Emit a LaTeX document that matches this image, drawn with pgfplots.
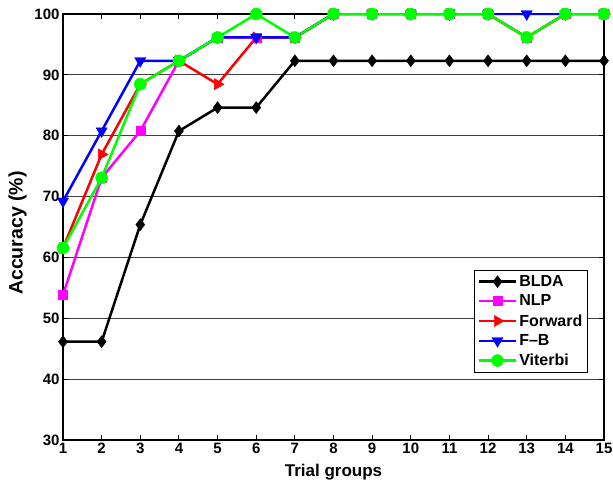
\documentclass[border=0pt]{standalone}
\usepackage{pgfplots}
\pgfplotsset{compat=1.18}
\usepackage{fontspec}
\setmainfont{Liberation Sans}
\definecolor{mmag}{rgb}{1,0,1}
\definecolor{mgreen}{rgb}{0,1,0}
\definecolor{mblue}{rgb}{0,0,1}
\definecolor{mred}{rgb}{1,0,0}
\begin{document}
\begin{tikzpicture}
\begin{axis}[
 name=ax,
 scale only axis, width=541pt, height=426pt,
 xmin=1,xmax=15,ymin=30,ymax=100,
 xtick={1,...,15}, ytick={30,40,...,100},
 ymajorgrids, grid style={black!75, line width=0.7pt},
 tick align=inside, major tick length=5pt,
 axis line style={line width=1.1pt},
 tick style={black, line width=0.9pt},
 font=\bfseries\fontsize{15}{17}\selectfont,
 ticklabel style={font=\bfseries\fontsize{15}{17}\selectfont},
 /pgf/number format/assume math mode=true,
 xlabel={Trial groups}, ylabel={Accuracy (\%)},
 xlabel style={yshift=-3pt, font=\bfseries\fontsize{17}{19}\selectfont},
 ylabel style={yshift=1pt, xshift=-6pt, font=\bfseries\fontsize{19.5}{21}\selectfont},
 legend style={at={(0.970,0.399)}, anchor=north east, draw=black, line width=0.8pt,
   font=\bfseries\fontsize{16}{18}\selectfont, row sep=3pt, inner xsep=3pt, inner ysep=3pt},
 legend cell align=left,
 legend image code/.code={\draw[mark repeat=2,mark phase=2] plot coordinates {(0cm,0cm)(0.65cm,0cm)(1.3cm,0cm)};},
 every axis plot/.append style={line width=2.5pt},
]
\addplot[black, mark=diamond*, mark size=6pt, mark options={line width=0.4pt}] coordinates {
(1,46.15)(2,46.15)(3,65.38)(4,80.77)(5,84.62)(6,84.62)(7,92.31)(8,92.31)(9,92.31)(10,92.31)(11,92.31)(12,92.31)(13,92.31)(14,92.31)(15,92.31)};
\addlegendentry{BLDA}
\addplot[mmag, mark=square*, mark size=4.5pt, mark options={line width=0.4pt}] coordinates {
(1,53.85)(2,73.08)(3,80.77)(4,92.31)(5,96.15)(6,96.15)(7,96.15)(8,100)(9,100)(10,100)(11,100)(12,100)(13,96.15)(14,100)(15,100)};
\addlegendentry{NLP}
\addplot[mred, mark=triangle*, mark size=6.5pt, mark options={rotate=-90, line width=0.4pt}] coordinates {
(1,61.54)(2,76.92)(3,88.46)(4,92.31)(5,88.46)(6,96.15)(7,96.15)(8,100)(9,100)(10,100)(11,100)(12,100)(13,96.15)(14,100)(15,100)};
\addlegendentry{Forward}
\addplot[mblue, mark=triangle*, mark size=6.5pt, mark options={rotate=180, line width=0.4pt}] coordinates {
(1,69.23)(2,80.77)(3,92.31)(4,92.31)(5,96.15)(6,96.15)(7,96.15)(8,100)(9,100)(10,100)(11,100)(12,100)(13,100)(14,100)(15,100)};
\addlegendentry{F--B}
\addplot[mgreen, mark=*, mark size=6pt, mark options={line width=0.4pt}] coordinates {
(1,61.54)(2,73.08)(3,88.46)(4,92.31)(5,96.15)(6,100)(7,96.15)(8,100)(9,100)(10,100)(11,100)(12,100)(13,96.15)(14,100)(15,100)};
\addlegendentry{Viterbi}
\end{axis}
\pgfresetboundingbox
\path[use as bounding box] ([shift={(-63pt,-45pt)}]ax.south west) rectangle ([shift={(9pt,14pt)}]ax.north east);
\end{tikzpicture}
\end{document}
